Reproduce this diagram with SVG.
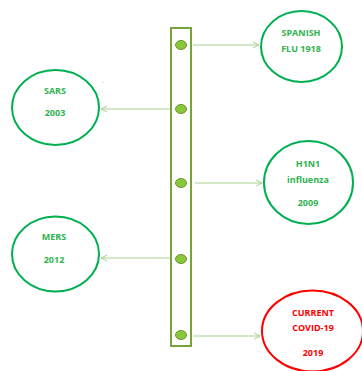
<svg xmlns="http://www.w3.org/2000/svg" width="362" height="371" viewBox="0 0 362 371">
<style>
.node{fill:#fff;stroke:#00b050;stroke-width:2}
.red{stroke:#ff0000}
.t{font-family:"Open Sans","Liberation Sans",sans-serif;font-weight:bold;font-size:9px;fill:#2eb34f;text-anchor:middle}
.tr{fill:#ff0000}
.c{stroke:#a9d18e;stroke-width:1;fill:none;marker-end:url(#a)}
.dot{fill:#8cc63f;stroke:#6a9a2a;stroke-width:1}
</style>
<defs>
<marker id="a" markerWidth="8" markerHeight="8" refX="7" refY="4" orient="auto" markerUnits="userSpaceOnUse">
<path d="M1,1 L7,4 L1,7" fill="none" stroke="#a9d18e" stroke-width="1"/>
</marker>
</defs>
<rect width="362" height="371" fill="#fff"/>
<g id="timeline">
<rect x="171" y="28" width="20" height="318" fill="#fff" stroke="#77a33a" stroke-width="2"/>
<ellipse class="dot" cx="181" cy="45" rx="5.5" ry="4.5"/>
<ellipse class="dot" cx="181" cy="109" rx="5.5" ry="4.5"/>
<ellipse class="dot" cx="181" cy="183" rx="5.5" ry="4.5"/>
<ellipse class="dot" cx="181" cy="259" rx="5.5" ry="4.5"/>
<ellipse class="dot" cx="181" cy="335" rx="5.5" ry="4.5"/>
</g>
<g id="connectors">
<path class="c" d="M193,45 L259,45"/>
<path class="c" d="M170,109 L101,109"/>
<path class="c" d="M195,183 L262,183"/>
<path class="c" d="M170,258 L101,258"/>
<path class="c" d="M193,336 L260,336"/>
</g>
<g id="spanish">
<ellipse class="node" cx="301.5" cy="46.5" rx="40.5" ry="35.5"/>
<text class="t" x="301" y="36">SPANISH</text>
<text class="t" x="301" y="52">FLU 1918</text>
</g>
<g id="sars">
<ellipse class="node" cx="55.5" cy="107.5" rx="43.5" ry="37.5"/>
<text class="t" x="55" y="94">SARS</text>
<text class="t" x="55" y="116">2003</text>
</g>
<text x="102" y="83" font-family="Liberation Sans,sans-serif" font-size="6" fill="#333">.</text>
<g id="h1n1">
<ellipse class="node" cx="308.5" cy="182.5" rx="44.5" ry="41.5"/>
<text class="t" x="308" y="167">H1N1</text>
<text class="t" x="308" y="183">influenza</text>
<text class="t" x="308" y="206">2009</text>
</g>
<g id="mers">
<ellipse class="node" cx="55.5" cy="254" rx="43.5" ry="37.5"/>
<text class="t" x="54" y="240">MERS</text>
<text class="t" x="54" y="263">2012</text>
</g>
<g id="covid">
<ellipse class="node red" cx="312.5" cy="331" rx="50.5" ry="40.5"/>
<text class="t tr" x="313" y="316">CURRENT</text>
<text class="t tr" x="313" y="331">COVID-19</text>
<text class="t tr" x="313" y="356">2019</text>
</g>
</svg>
